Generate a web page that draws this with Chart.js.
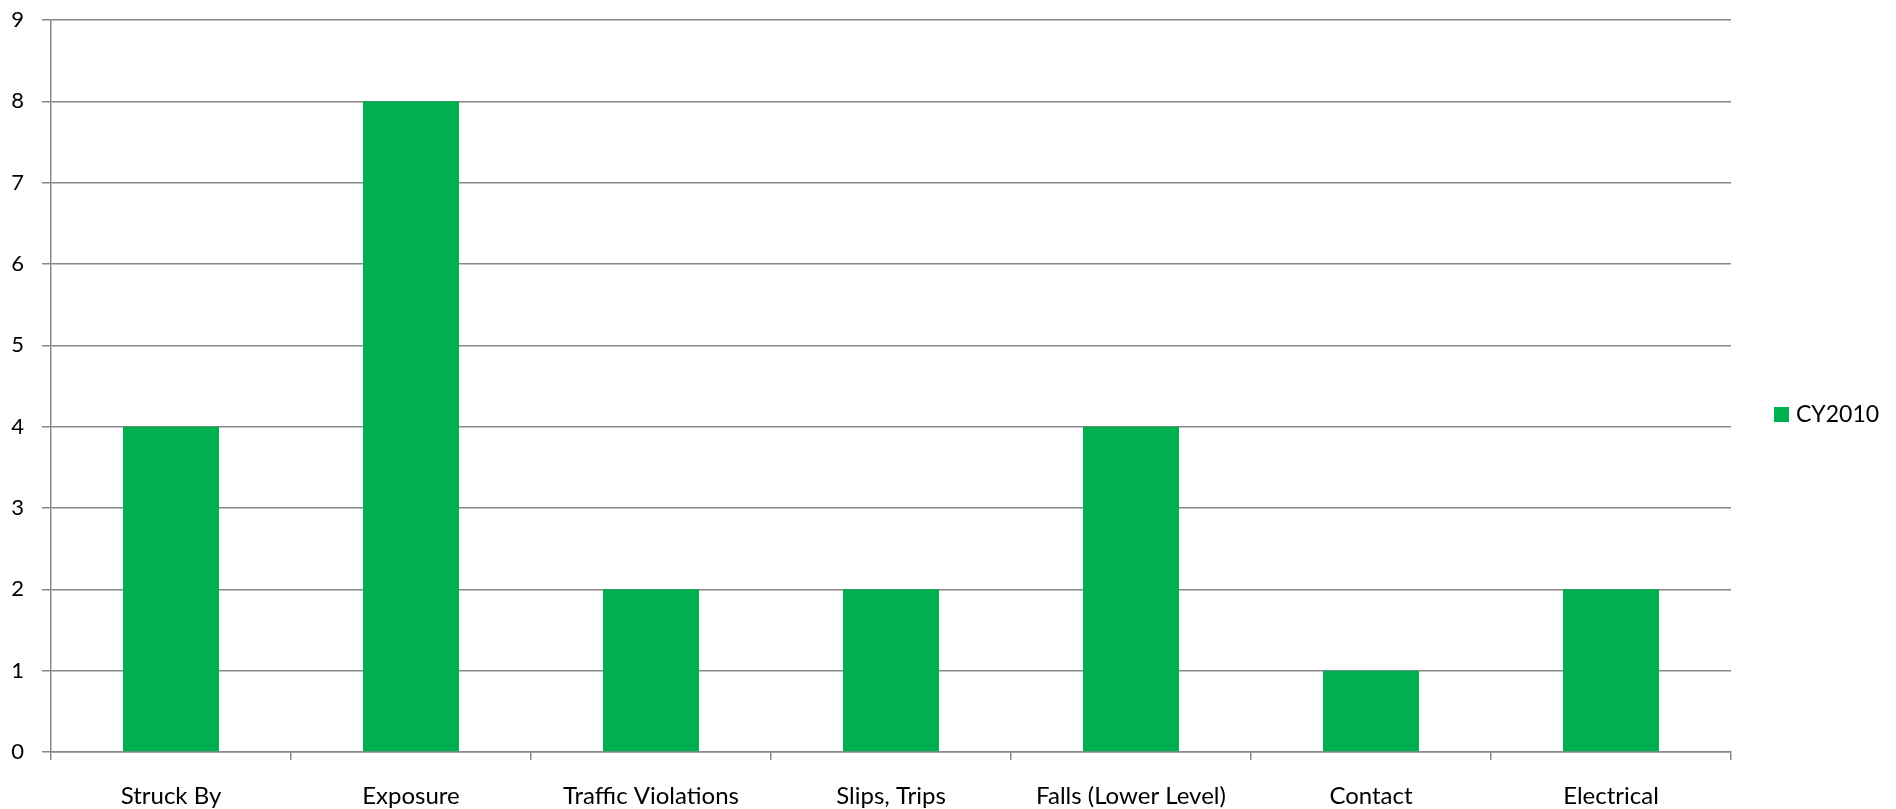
<!DOCTYPE html>
<html>
<head>
<meta charset="utf-8">
<script src="https://cdn.jsdelivr.net/npm/chart.js@4"></script>
<style>
html,body{margin:0;padding:0;background:#fff;}
#wrap{width:1896px;height:809px;position:relative;}
</style>
</head>
<body>
<div id="wrap"><canvas id="c" width="1896" height="809"></canvas></div>
<script>
const categories = ["Struck By","Exposure","Traffic Violations","Slips, Trips","Falls (Lower Level)","Contact","Electrical"];
const seriesName = "CY2010";
const seriesValues = [4,8,2,2,4,1,2];
const yTicks = [0,1,2,3,4,5,6,7,8,9];

const gridColor = "#888888";
const barColor = "#00B050";
const fontFamily = "Lato, 'Open Sans', sans-serif";

const legendPlugin = {
  id: 'customLegend',
  afterDraw(chart) {
    const ctx = chart.ctx;
    const ds = chart.data.datasets[0];
    ctx.save();
    ctx.fillStyle = ds.backgroundColor;
    ctx.fillRect(1774, 407, 15, 15);
    ctx.fillStyle = "#000";
    ctx.font = "23px " + fontFamily;
    ctx.textBaseline = "middle";
    ctx.textAlign = "left";
    ctx.fillText(ds.label, 1796, 415);
    ctx.restore();
  }
};

new Chart(document.getElementById('c'), {
  type: 'bar',
  data: {
    labels: categories,
    datasets: [{
      label: seriesName,
      data: seriesValues,
      backgroundColor: barColor,
      borderWidth: 0,
      barPercentage: 0.4,
      categoryPercentage: 1.0
    }]
  },
  options: {
    responsive: false,
    animation: false,
    devicePixelRatio: 1,
    layout: { padding: { left: 0, right: 165, top: 20, bottom: 0 } },
    plugins: { legend: { display: false }, tooltip: { enabled: false } },
    scales: {
      x: {
        grid: { offset: true, drawOnChartArea: false, drawTicks: true, tickLength: 8, color: gridColor, lineWidth: 1.5 },
        border: { display: true, color: gridColor, width: 1.5 },
        ticks: { color: "#000", font: { family: fontFamily, size: 24 }, padding: 22, maxRotation: 0, autoSkip: false },
        afterFit(scale) { scale.height = 57; scale.paddingLeft = 0; scale.paddingRight = 0; }
      },
      y: {
        min: 0, max: 9,
        afterBuildTicks(scale) { scale.ticks = yTicks.map(v => ({ value: v })); },
        grid: { drawOnChartArea: true, drawTicks: true, tickLength: 9, color: gridColor, lineWidth: 1.5 },
        border: { display: true, color: gridColor, width: 1.5 },
        ticks: { color: "#000", font: { family: fontFamily, size: 22 }, padding: 18 },
        afterFit(scale) { scale.width = 51; scale.paddingTop = 0; scale.paddingBottom = 0; }
      }
    }
  },
  plugins: [legendPlugin]
});
</script>
</body>
</html>
